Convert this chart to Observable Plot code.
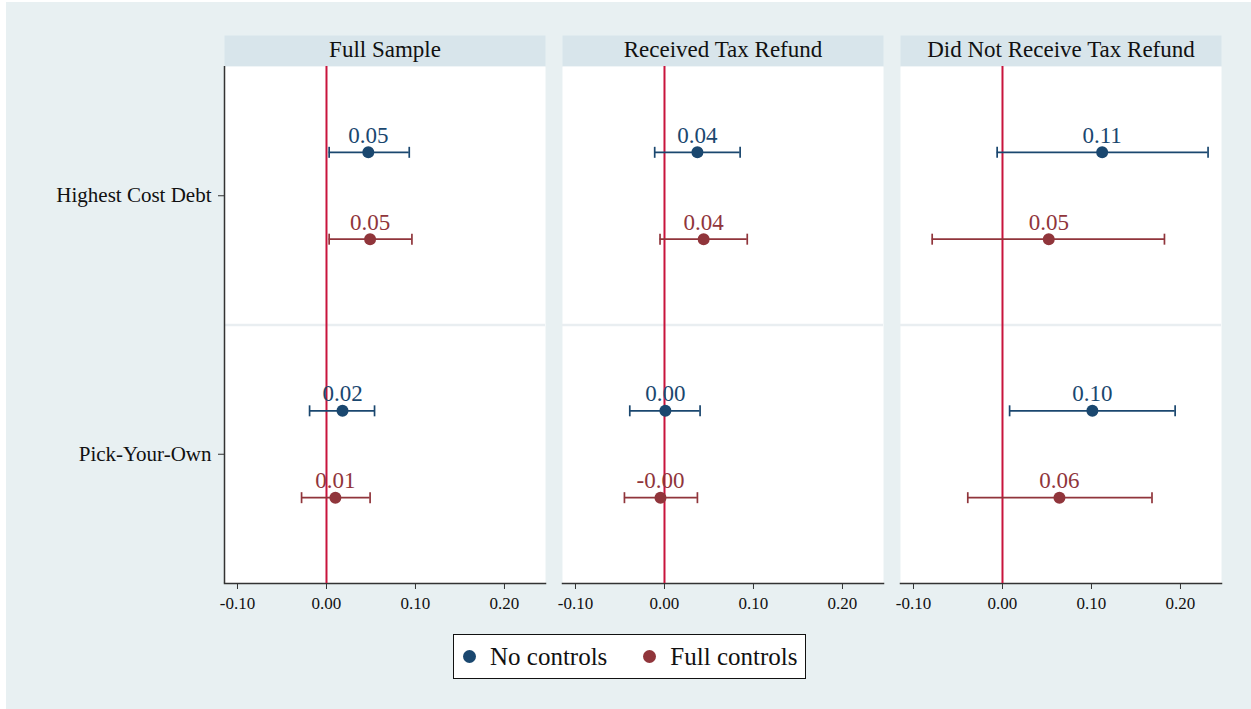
<!DOCTYPE html>
<html>
<head>
<meta charset="utf-8">
<script src="https://cdn.jsdelivr.net/npm/d3@7"></script>
<script src="https://cdn.jsdelivr.net/npm/@observablehq/plot@0.6"></script>
<style>
  html, body { margin: 0; padding: 0; background: #ffffff; }
  #fig { position: absolute; left: 6px; top: 2px; width: 1245px; height: 707px; background: #e8f0f2; font-family: "Liberation Serif", "Times New Roman", serif; }
  #legend { position: absolute; left: 447px; top: 632px; width: 351px; height: 43px; background: #ffffff; border: 1px solid #111; display: flex; align-items: center; font-size: 25px; color: #111; }
  #legend .item { display: flex; align-items: center; }
  #legend .sw { width: 13px; height: 13px; border-radius: 50%; display: inline-block; margin-right: 14px; }
</style>
</head>
<body>
<div id="fig"></div>
<script>
// ---- data ----
const panels = ["Full Sample", "Received Tax Refund", "Did Not Receive Tax Refund"];
const outcomes = ["Highest Cost Debt", "Pick-Your-Own"];
const specs = ["No controls", "Full controls"];
const xTicks = [-0.10, 0.00, 0.10, 0.20];

// order: [panel][outcome] flattened -> FS-HCD, FS-PYO, RTR-HCD, RTR-PYO, DNR-HCD, DNR-PYO
const noControlsEst = [0.047, 0.018, 0.037, 0.001, 0.112, 0.101];
const noControlsLo  = [0.003, -0.019, -0.011, -0.039, -0.006, 0.008];
const noControlsHi  = [0.093, 0.054, 0.085, 0.040, 0.231, 0.194];

const fullControlsEst = [0.049, 0.010, 0.044, -0.0045, 0.052, 0.064];
const fullControlsLo  = [0.003, -0.028, -0.005, -0.045, -0.079, -0.039];
const fullControlsHi  = [0.096, 0.049, 0.093, 0.037, 0.182, 0.168];

const colors = ["#1a476f", "#90353b"];

// ---- build table ----
const rows = [];
const offset = 0.168;
panels.forEach((p, pi) => {
  outcomes.forEach((o, oi) => {
    const k = pi * outcomes.length + oi;
    rows.push({panel: p, outcome: o, spec: specs[0], est: noControlsEst[k], lo: noControlsLo[k], hi: noControlsHi[k], y: oi + 0.5 - offset});
    rows.push({panel: p, outcome: o, spec: specs[1], est: fullControlsEst[k], lo: fullControlsLo[k], hi: fullControlsHi[k], y: oi + 0.5 + offset});
  });
});

const xDomain = [-0.1146, 0.2461];
const capSymbol = {
  draw(ctx, size) {
    const h = Math.sqrt(size / Math.PI);
    ctx.moveTo(0, -h);
    ctx.lineTo(0, h);
  }
};

const W = 1245, H = 618, mt = 64, mb = 37, ml = 218, mr = 30;
const plotH = H - mt - mb;

const chart = Plot.plot({
  width: W,
  height: H,
  marginTop: mt,
  marginBottom: mb,
  marginLeft: ml,
  marginRight: mr,
  style: {background: "transparent", fontFamily: "'Liberation Serif', 'Times New Roman', serif", color: "#111", overflow: "visible"},
  fx: {domain: panels, paddingInner: 17 / 338, paddingOuter: 0, axis: null, label: null},
  x: {domain: xDomain, axis: null},
  y: {domain: [outcomes.length, 0], axis: null},
  color: {domain: specs, range: colors},
  marks: [
    Plot.frame({fill: "#d8e5eb", insetTop: -31, insetBottom: plotH}),
    Plot.frame({fill: "white"}),
    Plot.ruleY(d3.range(1, outcomes.length), {stroke: "#e9eef1", strokeWidth: 2.5}),
    Plot.text(panels, {fx: d => d, text: d => d, frameAnchor: "top", lineAnchor: "middle", dy: -17, fontSize: 23, fill: "#111"}),
    Plot.frame({anchor: "bottom", stroke: "#333", strokeWidth: 1.5}),
    Plot.ruleX([xDomain[0]], {fx: () => panels[0], stroke: "#333", strokeWidth: 1.5}),
    Plot.axisX({ticks: xTicks, tickFormat: d => d.toFixed(2), tickSize: 6, tickPadding: 7, fontSize: 17, label: null, stroke: "#333"}),
    Plot.axisY({ticks: outcomes.map((_, i) => i + 0.5), tickFormat: v => outcomes[Math.floor(v)], tickSize: 6, tickPadding: 7, fontSize: 21, label: null, stroke: "#333"}),
    Plot.ruleX([0], {stroke: "#c8143c", strokeWidth: 2}),
    Plot.ruleY(rows, {fx: "panel", y: "y", x1: "lo", x2: "hi", stroke: "spec", strokeWidth: 1.7}),
    Plot.dot(rows, {fx: "panel", x: "lo", y: "y", symbol: capSymbol, r: 5.5, stroke: "spec", strokeWidth: 1.7, fill: "none"}),
    Plot.dot(rows, {fx: "panel", x: "hi", y: "y", symbol: capSymbol, r: 5.5, stroke: "spec", strokeWidth: 1.7, fill: "none"}),
    Plot.dot(rows, {fx: "panel", x: "est", y: "y", r: 6, fill: "spec", stroke: "none"}),
    Plot.text(rows, {fx: "panel", x: "est", y: "y", text: d => d.est.toFixed(2), fill: "spec", dy: -17, fontSize: 23})
  ]
});

const fig = document.getElementById("fig");
fig.appendChild(chart);

const legend = document.createElement("div");
legend.id = "legend";
specs.forEach((s, i) => {
  const item = document.createElement("div");
  item.className = "item";
  item.style.marginLeft = i === 0 ? "9px" : "36px";
  const sw = document.createElement("span");
  sw.className = "sw";
  sw.style.background = colors[i];
  const lab = document.createElement("span");
  lab.textContent = s;
  item.appendChild(sw);
  item.appendChild(lab);
  legend.appendChild(item);
});
fig.appendChild(legend);
</script>
</body>
</html>
